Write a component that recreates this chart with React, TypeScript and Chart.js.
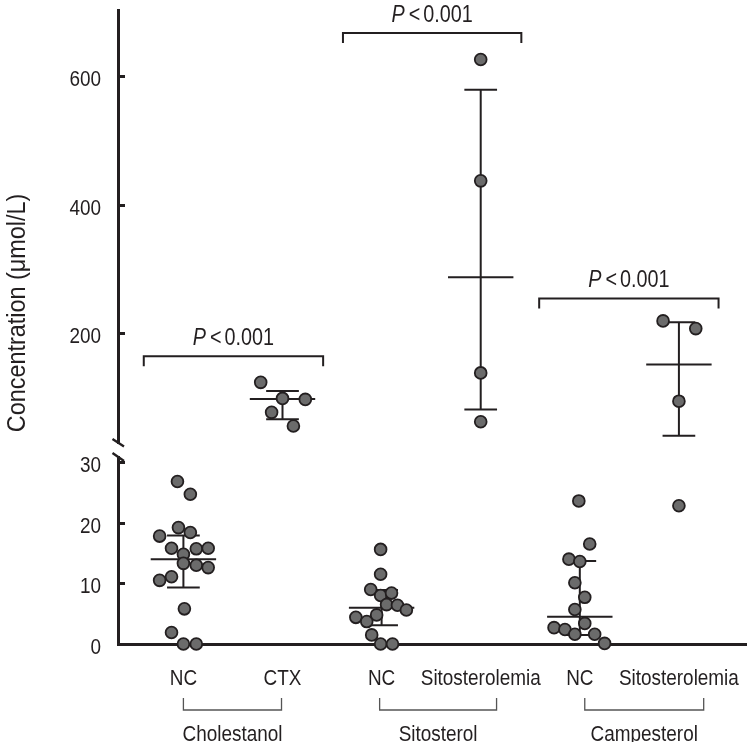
import React, { useEffect, useRef } from "react";
import { Chart, registerables } from "chart.js";

Chart.register(...registerables);

const FONT = '"Liberation Sans", Arial, sans-serif';
const SX = 0.86; // horizontal squeeze to imitate the condensed face
const INK = "#231f20";
const DOT = "#6b6b6b";

// ---------- category / axis text ----------
const tickLabels = ["NC", "CTX", "NC", "Sitosterolemia", "NC", "Sitosterolemia"];
const groupLabels = ["Cholestanol", "Sitosterol", "Campesterol"];
const groupSpans = [[0, 0.99], [1.98, 3.16], [4.05, 5.25]];
const upperTicks = [200, 400, 600];
const lowerTicks = [0, 10, 20, 30];
const yTitle = "Concentration (μmol/L)";

// ---------- individual points ----------
// Cholestanol, NC (lower axis, µmol/L)
const cholNC = [26.8, 24.7, 17.8, 19.2, 18.4, 15.8, 15.7, 15.8, 14.8, 13.3, 13.0, 12.6, 11.1, 10.5, 5.8, 1.9, 0, 0];
const cholNCJit = [-0.06, 0.07, -0.24, -0.05, 0.07, -0.12, 0.13, 0.25, 0, 0, 0.13, 0.25, -0.12, -0.24, 0.01, -0.12, 0, 0.13];
// Cholestanol, CTX (upper axis)
const cholCTX = [123.3, 98.3, 96.8, 76.6, 55.3];
const cholCTXJit = [-0.22, 0, 0.23, -0.11, 0.11];
// Sitosterol, NC (lower axis)
const sitoNC = [15.6, 11.5, 9.0, 8.0, 8.4, 6.5, 6.4, 5.6, 4.8, 4.4, 3.7, 1.5, 0, 0];
const sitoNCJit = [-0.01, -0.01, -0.11, -0.01, 0.1, 0.05, 0.16, 0.25, -0.05, -0.26, -0.15, -0.1, -0.01, 0.11];
// Sitosterol, Sitosterolemia (upper axis)
const sitoSS = [626, 437, 138, 62];
const sitoSSJit = [0, 0, 0, 0];
// Campesterol, NC (lower axis)
const campNC = [23.6, 16.5, 14.0, 13.6, 10.1, 7.7, 5.7, 3.4, 2.7, 2.4, 1.6, 1.6, 0.1];
const campNCJit = [-0.01, 0.1, -0.11, 0, -0.05, 0.05, -0.05, 0.05, -0.26, -0.15, -0.05, 0.15, 0.25];
// Campesterol, Sitosterolemia (upper axis part, and one point on lower axis)
const campSSHigh = [219, 207, 94];
const campSSHighJit = [-0.16, 0.17, 0];
const campSSLow = [22.8];
const campSSLowJit = [0];

// ---------- error bars (mean, low, high) ----------
const barCat = [0, 1, 2, 3, 4, 5];
const barMean = [14.0, 97.3, 6.0, 287, 4.5, 151];
const barLow = [9.3, 66, 3.1, 81, 1.5, 40];
const barHigh = [17.9, 110, 8.9, 579, 13.7, 217];
const barAxis = ["yLow", "yHigh", "yLow", "yHigh", "yLow", "yHigh"];

// ---------- significance brackets ----------
const pText = "<0.001";
const pSpans = [[-0.4, 1.41], [1.61, 3.41], [3.59, 5.4]];
const pLevels = [164, 667, 254];

function pointSet(vals: number[], jit: number[], cat: number, axis: string) {
  return {
    type: "scatter" as const,
    data: vals.map((v, i) => ({ x: cat + jit[i], y: v })),
    xAxisID: "x",
    yAxisID: axis,
    pointRadius: 5.9,
    pointHoverRadius: 5.9,
    pointBackgroundColor: DOT,
    pointBorderColor: INK,
    pointBorderWidth: 1.8,
    showLine: false,
    clip: false,
  };
}

function text(ctx: any, s: string, x: number, y: number, size: number, align: string, italic = false, sx = SX) {
  ctx.save();
  ctx.font = `${italic ? "italic " : ""}${size}px ${FONT}`;
  ctx.textAlign = align;
  ctx.textBaseline = "alphabetic";
  ctx.translate(x, y);
  ctx.scale(sx, 1);
  ctx.fillText(s, 0, 0);
  ctx.restore();
}

function textWidth(ctx: any, s: string, size: number, italic = false, sx = SX) {
  ctx.save();
  ctx.font = `${italic ? "italic " : ""}${size}px ${FONT}`;
  const w = ctx.measureText(s).width * sx;
  ctx.restore();
  return w;
}

const decorPlugin = {
  id: "decor",
  beforeDatasetsDraw(chart: any) {
    const ctx = chart.ctx;
    const xs = chart.scales.x;
    ctx.save();
    ctx.strokeStyle = INK;
    ctx.lineWidth = 2;
    barCat.forEach((c, i) => {
      const ys = chart.scales[barAxis[i]];
      const cx = xs.getPixelForValue(c);
      const yM = ys.getPixelForValue(barMean[i]);
      const yL = ys.getPixelForValue(barLow[i]);
      const yH = ys.getPixelForValue(barHigh[i]);
      ctx.beginPath();
      ctx.moveTo(cx, yH);
      ctx.lineTo(cx, yL);
      ctx.moveTo(xs.getPixelForValue(c - 0.33), yM);
      ctx.lineTo(xs.getPixelForValue(c + 0.33), yM);
      ctx.moveTo(xs.getPixelForValue(c - 0.165), yH);
      ctx.lineTo(xs.getPixelForValue(c + 0.165), yH);
      ctx.moveTo(xs.getPixelForValue(c - 0.165), yL);
      ctx.lineTo(xs.getPixelForValue(c + 0.165), yL);
      ctx.stroke();
    });
    ctx.restore();
  },
  afterDraw(chart: any) {
    const ctx = chart.ctx;
    const xs = chart.scales.x;
    const yH = chart.scales.yHigh;
    const yL = chart.scales.yLow;
    const area = chart.chartArea;
    ctx.save();
    ctx.fillStyle = INK;

    // inward tick marks + tick labels of the two y scales
    ctx.strokeStyle = INK;
    ctx.lineWidth = 3;
    [yH, yL].forEach((s: any) => {
      s.ticks.forEach((t: any) => {
        const py = Math.round(s.getPixelForValue(t.value)) + 0.5;
        ctx.beginPath();
        ctx.moveTo(area.left, py);
        ctx.lineTo(area.left + 7, py);
        ctx.stroke();
        text(ctx, String(t.value), area.left - 17, py + 9, 22, "right");
      });
    });

    // x tick labels
    xs.ticks.forEach((t: any) => {
      const px = xs.getPixelForValue(t.value);
      text(ctx, tickLabels[Math.round(t.value)], px, area.bottom + 41, 22, "center");
    });

    // axis break
    const by = yH.bottom;
    ctx.fillStyle = "#ffffff";
    ctx.fillRect(area.left - 6, by - 6, 12, 12);
    ctx.fillStyle = INK;
    ctx.lineWidth = 2.4;
    ctx.beginPath();
    ctx.moveTo(area.left - 5.5, by - 11);
    ctx.lineTo(area.left + 6, by - 3.5);
    ctx.moveTo(area.left - 5.5, by + 3);
    ctx.lineTo(area.left + 6, by + 11);
    ctx.stroke();

    // y title
    ctx.save();
    ctx.translate(25, 313);
    ctx.rotate(-Math.PI / 2);
    text(ctx, yTitle, 0, 0, 26, "center", false, 0.9);
    ctx.restore();

    // group brackets under the axis
    ctx.strokeStyle = "#555555";
    ctx.lineWidth = 1.3;
    groupSpans.forEach((sp, i) => {
      const x1 = xs.getPixelForValue(sp[0]);
      const x2 = xs.getPixelForValue(sp[1]);
      const yb = area.bottom + 66;
      ctx.beginPath();
      ctx.moveTo(x1, area.bottom + 54);
      ctx.lineTo(x1, yb);
      ctx.lineTo(x2, yb);
      ctx.lineTo(x2, area.bottom + 54);
      ctx.stroke();
      text(ctx, groupLabels[i], (x1 + x2) / 2, area.bottom + 97, 22, "center");
    });

    // significance brackets
    ctx.strokeStyle = INK;
    ctx.lineWidth = 2;
    pSpans.forEach((sp, i) => {
      const x1 = xs.getPixelForValue(sp[0]);
      const x2 = xs.getPixelForValue(sp[1]);
      const y = yH.getPixelForValue(pLevels[i]);
      ctx.beginPath();
      ctx.moveTo(x1, y + 10);
      ctx.lineTo(x1, y);
      ctx.lineTo(x2, y);
      ctx.lineTo(x2, y + 10);
      ctx.stroke();
      const wP = textWidth(ctx, "P", 23, true);
      const wLt = textWidth(ctx, pText[0], 23);
      const wNum = textWidth(ctx, pText.slice(1), 23);
      const gap1 = 4, gap2 = 3;
      const total = wP + gap1 + wLt + gap2 + wNum;
      let tx = (x1 + x2) / 2 - total / 2;
      const ty = y - 11;
      text(ctx, "P", tx, ty, 23, "left", true);
      tx += wP + gap1;
      text(ctx, pText[0], tx, ty, 23, "left");
      tx += wLt + gap2;
      text(ctx, pText.slice(1), tx, ty, 23, "left");
    });
    ctx.restore();
  },
};

export default function App() {
  const ref = useRef<HTMLCanvasElement | null>(null);
  useEffect(() => {
    if (!ref.current) return;
    const zeroPad = (s: any) => {
      s.paddingTop = 0;
      s.paddingBottom = 0;
      s.paddingLeft = 0;
      s.paddingRight = 0;
    };
    const chart = new Chart(ref.current, {
      type: "scatter",
      data: {
        datasets: [
          pointSet(cholNC, cholNCJit, 0, "yLow"),
          pointSet(cholCTX, cholCTXJit, 1, "yHigh"),
          pointSet(sitoNC, sitoNCJit, 2, "yLow"),
          pointSet(sitoSS, sitoSSJit, 3, "yHigh"),
          pointSet(campNC, campNCJit, 4, "yLow"),
          pointSet(campSSHigh, campSSHighJit, 5, "yHigh"),
          pointSet(campSSLow, campSSLowJit, 5, "yLow"),
        ] as any,
      },
      options: {
        animation: false,
        responsive: false,
        layout: { padding: { top: 10, right: 2, left: 0, bottom: 0 } },
        plugins: { legend: { display: false }, tooltip: { enabled: false } },
        scales: {
          x: {
            type: "linear",
            position: "bottom",
            min: -0.66,
            max: 5.68,
            grid: { display: false, drawTicks: false },
            border: { display: true, width: 3, color: INK },
            afterBuildTicks: (s: any) => {
              s.ticks = tickLabels.map((_, i) => ({ value: i }));
            },
            afterFit: (s: any) => {
              s.height = 98;
              zeroPad(s);
            },
            ticks: { display: false, autoSkip: false, maxRotation: 0 },
          },
          yLow: {
            type: "linear",
            position: "left",
            stack: "v",
            stackWeight: 194,
            min: 0,
            max: 32,
            grid: { display: false, drawTicks: false },
            border: { display: true, width: 3, color: INK },
            afterBuildTicks: (s: any) => {
              s.ticks = lowerTicks.map((v) => ({ value: v }));
            },
            afterFit: (s: any) => {
              s.width = 118;
              zeroPad(s);
            },
            ticks: { display: false },
          },
          yHigh: {
            type: "linear",
            position: "left",
            stack: "v",
            stackWeight: 440,
            min: 18,
            max: 703,
            grid: { display: false, drawTicks: false },
            border: { display: true, width: 3, color: INK },
            afterBuildTicks: (s: any) => {
              s.ticks = upperTicks.map((v) => ({ value: v }));
            },
            afterFit: (s: any) => {
              s.width = 118;
              zeroPad(s);
            },
            ticks: { display: false },
          },
        } as any,
      },
      plugins: [decorPlugin],
    } as any);
    return () => chart.destroy();
  }, []);
  return (
    <div style={{ position: "absolute", left: 0, top: 0, width: 754, height: 742, background: "#fff" }}>
      <canvas ref={ref} width={754} height={742} style={{ display: "block" }} />
    </div>
  );
}
